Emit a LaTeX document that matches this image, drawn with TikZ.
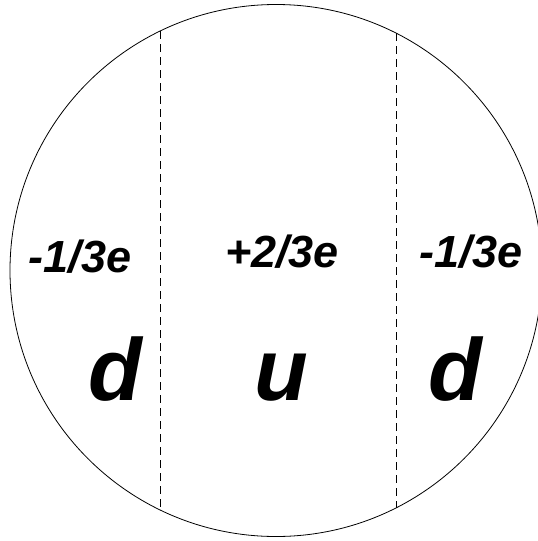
\documentclass[tikz,border=0pt]{standalone}
\usepackage{fontspec}
\setmainfont{Liberation Sans}
\usetikzlibrary{positioning}

\begin{document}
\begin{tikzpicture}[x=1pt, y=-1pt,
    boundary/.style={draw=black, line width=0.8pt},
    divider/.style={draw=black, line width=0.6pt, dash pattern=on 8pt off 5pt},
    charge/.style={font=\fontsize{45}{45}\selectfont\bfseries\itshape, inner sep=0pt, anchor=base},
    flavour/.style={font=\fontsize{88}{88}\selectfont\bfseries\itshape, inner sep=0pt, anchor=base}]

    \useasboundingbox (0,0) rectangle (538,541);
    \clip (0,0) rectangle (538,541);

    % proton outline
    \coordinate (centre) at (276,270.5);
    \draw[boundary] (centre) circle [radius=266];

    % quark regions
    \coordinate (lefttop) at (160,31.1);
    \coordinate (leftbot) at (160,509.9);
    \coordinate (righttop) at (396,33.1);
    \coordinate (rightbot) at (396,507.9);
    \draw[divider] (lefttop) -- (leftbot);
    \draw[divider] (righttop) -- (rightbot);

    \node[charge] (qa) at (80,272) {-1/3e};
    \node[charge] (qb) at (282,267) {+2/3e};
    \node[charge] (qc) at (471,267) {-1/3e};

    \node[flavour] (fa) at (115,400) {d};
    \node[flavour] (fb) at (281.5,400) {u};
    \node[flavour] (fc) at (455.5,400) {d};

\end{tikzpicture}
\end{document}
